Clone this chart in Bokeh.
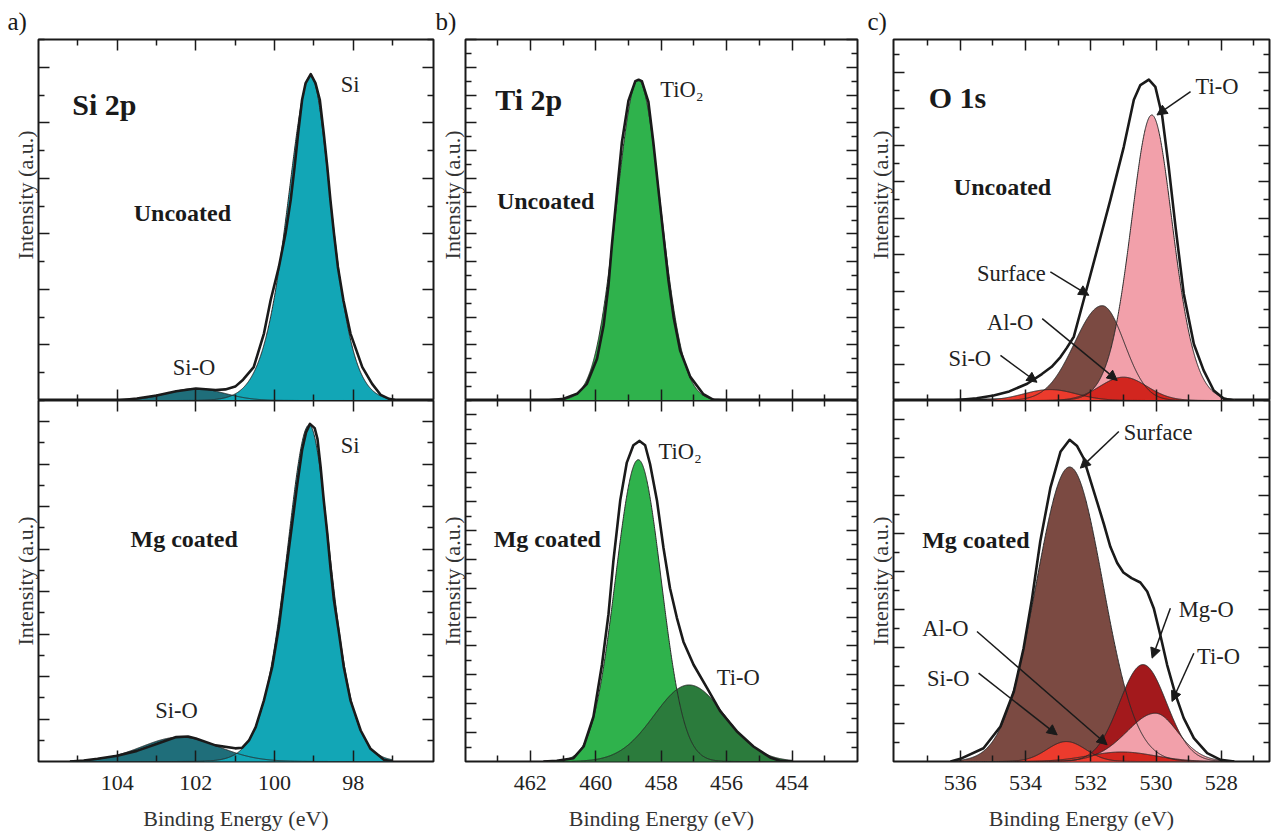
import numpy as np
from bokeh.plotting import figure
from bokeh.models import Range1d, FixedTicker, LinearAxis, Arrow, NormalHead, Title
from bokeh.layouts import row, column
from bokeh.embed import file_html
from bokeh.resources import INLINE
from bokeh.core.properties import value

# ======================= DATA =======================
# ---- a) Si 2p, uncoated : measured spectrum ----
si_unc_E = [104.0, 103.5, 103.0, 102.5, 102.0, 101.5, 101.25, 101.0, 100.8, 100.53,
            100.27, 100.1, 99.89, 99.72, 99.59, 99.49, 99.4, 99.3, 99.21, 99.08,
            98.96, 98.85, 98.75, 98.66, 98.58, 98.49, 98.39, 98.25, 98.07, 97.77,
            97.52, 97.3, 97.09, 96.9]
si_unc_I = [0.0, 0.07, 0.18, 0.33, 0.43, 0.38, 0.40, 0.50, 0.75, 1.2,
            2.41, 3.61, 4.81, 6.02, 7.22, 8.42, 9.63, 10.83, 11.43, 11.75,
            11.43, 10.83, 9.63, 8.42, 7.22, 6.02, 4.81, 3.61, 2.41, 1.2,
            0.6, 0.2, 0.06, 0.0]
# fitted components: centre (eV), height, half widths on high / low BE side,
# Gauss-Lorentz mixing m
si_unc_names = ["Si-O", "Si"]
si_unc_center = [102.0, 99.08]
si_unc_height = [0.43, 11.7]
si_unc_hw_hi = [0.85, 0.73]
si_unc_hw_lo = [0.85, 0.64]
si_unc_mix = [0.0, 0.5]

# ---- a) Si 2p, Mg coated ----
si_mg_E = [105.2, 104.85, 104.5, 104.0, 103.5, 103.0, 102.5, 102.2, 102.0, 101.5,
           101.0, 100.82, 100.65, 100.48, 100.27, 100.06, 99.89, 99.76, 99.64, 99.53,
           99.42, 99.3, 99.2, 99.1, 98.98, 98.91, 98.83, 98.75, 98.66, 98.58,
           98.49, 98.36, 98.24, 98.07, 97.81, 97.56, 97.22, 97.0]
si_mg_I = [0.0, 0.05, 0.13, 0.27, 0.5, 0.82, 1.15, 1.18, 1.08, 0.76,
           0.62, 0.65, 0.99, 1.62, 2.88, 4.45, 6.33, 8.22, 9.95, 11.52,
           13.1, 14.67, 15.5, 15.9, 15.7, 15.2, 13.88, 12.31, 10.74, 9.17,
           7.59, 6.02, 4.45, 2.88, 1.46, 0.6, 0.08, 0.0]
si_mg_names = ["Si-O", "Si"]
si_mg_center = [102.4, 99.12]
si_mg_height = [1.15, 15.85]
si_mg_hw_hi = [1.15, 0.72]
si_mg_hw_lo = [1.15, 0.67]
si_mg_mix = [0.0, 0.5]

# ---- b) Ti 2p, uncoated ----
ti_unc_E = [461.5, 460.98, 460.57, 460.27, 459.96, 459.76, 459.61, 459.51, 459.35, 459.2,
            459.0, 458.79, 458.69, 458.59, 458.39, 458.24, 458.08, 457.93, 457.78, 457.62,
            457.42, 457.11, 456.71, 456.4, 456.0]
ti_unc_I = [0.0, 0.12, 0.48, 1.2, 3.0, 5.4, 8.3, 11.1, 15.0, 18.6,
            21.6, 23.0, 23.1, 23.0, 21.5, 18.6, 15.1, 11.9, 8.7, 6.0,
            3.6, 1.7, 0.45, 0.05, 0.0]
ti_unc_names = ["TiO₂"]
ti_unc_center = [458.70]
ti_unc_height = [23.1]
ti_unc_hw_hi = [0.80]
ti_unc_hw_lo = [0.82]
ti_unc_mix = [0.1]

# ---- b) Ti 2p, Mg coated ----
ti_mg_E = [461.6, 461.19, 460.68, 460.37, 460.07, 459.81, 459.61, 459.46, 459.25, 459.05,
           458.85, 458.66, 458.49, 458.34, 458.13, 457.93, 457.73, 457.52, 457.32, 457.01,
           456.6, 456.2, 455.69, 455.18, 454.67, 454.37, 454.0]
ti_mg_I = [0.0, 0.05, 0.23, 1.04, 3.1, 6.7, 10.2, 13.9, 18.1, 20.7,
           21.9, 22.2, 21.9, 20.6, 18.1, 14.8, 12.0, 9.95, 8.3, 6.7,
           5.1, 3.5, 2.1, 1.04, 0.28, 0.05, 0.0]
ti_mg_names = ["TiO₂", "Ti-O"]
ti_mg_center = [458.70, 457.15]
ti_mg_height = [20.9, 5.3]
ti_mg_hw_hi = [0.82, 1.25]
ti_mg_hw_lo = [0.82, 1.28]
ti_mg_mix = [0.0, 0.0]

# ---- c) O 1s, uncoated ----
o_unc_E = [536.3, 536.0, 535.5, 534.98, 534.5, 533.95, 533.5, 533.2, 532.93, 532.73,
           532.52, 532.22, 531.81, 531.4, 530.99, 530.68, 530.48, 530.22, 530.02, 529.81,
           529.61, 529.4, 529.15, 528.84, 528.54, 528.23, 527.92, 527.6]
o_unc_I = [0.0, 0.04, 0.12, 0.27, 0.5, 0.92, 1.45, 1.85, 2.38, 2.9,
           3.5, 5.5, 8.24, 11.0, 13.9, 16.5, 17.3, 17.6, 17.2, 15.6,
           12.8, 9.5, 5.86, 3.1, 1.65, 0.55, 0.09, 0.0]
o_unc_names = ["Surface", "Ti-O", "Al-O", "Si-O"]
o_unc_center = [531.65, 530.13, 531.0, 533.25]
o_unc_height = [5.2, 15.66, 1.28, 0.6]
o_unc_hw_hi = [1.0, 0.8, 0.85, 0.95]
o_unc_hw_lo = [0.8, 0.8, 0.85, 0.95]
o_unc_mix = [0.0, 0.4, 0.0, 0.0]

# ---- c) O 1s, Mg coated ----
o_mg_E = [536.3, 536.0, 535.29, 534.77, 534.36, 534.06, 533.8, 533.55, 533.24, 532.93,
          532.65, 532.42, 532.22, 531.81, 531.6, 531.4, 531.19, 531.0, 530.75, 530.48,
          530.27, 530.07, 529.87, 529.66, 529.4, 529.15, 528.84, 528.43, 528.02, 527.6]
o_mg_I = [0.0, 0.14, 0.7, 1.84, 3.68, 5.96, 8.6, 11.58, 14.4, 16.3,
          16.93, 16.6, 15.96, 13.68, 12.5, 11.3, 10.45, 9.95, 9.65, 9.42,
          8.95, 8.07, 6.67, 5.09, 3.51, 2.28, 1.23, 0.44, 0.09, 0.0]
o_mg_names = ["Surface", "Mg-O", "Ti-O", "Al-O", "Si-O"]
o_mg_center = [532.65, 530.4, 530.02, 531.05, 532.75]
o_mg_height = [15.5, 5.1, 2.54, 0.5, 1.05]
o_mg_hw_hi = [1.2, 0.85, 1.1, 1.2, 0.7]
o_mg_hw_lo = [1.2, 0.85, 0.85, 1.2, 0.7]
o_mg_mix = [0.0, 0.0, 0.3, 0.0, 0.0]

# axis tick values
si_ticks_major = [98, 100, 102, 104]
si_ticks_minor = [97, 99, 101, 103, 105]
ti_ticks_major = [454, 456, 458, 460, 462]
ti_ticks_minor = [453, 455, 457, 459, 461, 463]
o_ticks_major = [528, 530, 532, 534, 536]
o_ticks_minor = [527, 529, 531, 533, 535, 537]

# text annotations: (text, x, y, kind)
si_unc_text = [("Si 2p", 105.14, 10.65, "title"), ("Uncoated", 103.58, 6.75, "state"),
               ("Si", 98.32, 11.37, "peak"), ("Si-O", 102.59, 1.19, "peak")]
si_mg_text = [("Si", 98.32, 14.9, "peak"), ("Mg coated", 103.66, 10.5, "state"),
              ("Si-O", 103.03, 2.4, "peak")]
ti_unc_text = [("Ti 2p", 463.07, 21.7, "title"), ("Uncoated", 463.02, 14.4, "state"),
               ("TiO₂", 458.03, 22.4, "peak")]
ti_mg_text = [("TiO₂", 458.08, 21.5, "peak"), ("Mg coated", 463.12, 15.4, "state"),
              ("Ti-O", 456.3, 5.8, "peak")]
o_unc_text = [("O 1s", 536.97, 16.6, "title"), ("Uncoated", 536.2, 11.7, "state"),
              ("Ti-O", 528.79, 17.2, "peak"), ("Surface", 535.49, 6.96, "peak"),
              ("Al-O", 535.18, 4.3, "peak"), ("Si-O", 536.36, 2.29, "peak")]
o_mg_text = [("Surface", 530.99, 17.3, "peak"), ("Mg coated", 537.17, 11.67, "state"),
             ("Mg-O", 529.3, 7.98, "peak"), ("Ti-O", 528.74, 5.53, "peak"),
             ("Al-O", 537.17, 7.0, "peak"), ("Si-O", 537.02, 4.38, "peak")]
# arrows: (x_start, y_start, x_end, y_end)
o_unc_arrows = [(528.94, 16.94, 529.97, 15.66), (533.24, 7.05, 532.06, 5.77),
                (533.49, 4.49, 531.19, 1.1), (534.77, 2.47, 533.65, 1.0)]
o_mg_arrows = [(531.14, 17.37, 532.32, 15.44), (529.56, 8.07, 530.12, 5.44),
               (528.84, 5.7, 529.51, 3.16), (535.49, 6.84, 531.5, 0.88),
               (535.44, 4.65, 533.03, 1.4)]

# ======================= STYLE =======================
INK = "#1a1a1a"
FONT = "Liberation Serif"
C_SI = "#12a6b6"
C_SIO_T = "#1f6e7a"
C_TIO2 = "#2fb24c"
C_TIO_G = "#2b7b3c"
C_PINK = "#f2a0aa"
C_BROWN = "#7b4a42"
C_MGO = "#a3191c"
C_ALO = "#d2261f"
C_SIO_R = "#ec3b2d"

KIND = {"title": ("30px", "bold", INK), "state": ("24px", "bold", INK),
        "peak": ("22.5px", "normal", "#222")}


def gl(x, c, h, hwh, hwl, m):
    """Gauss-Lorentz (product form) line shape with separate half widths."""
    hw = np.where(x >= c, hwh, hwl)
    u = (x - c) / hw
    return h * np.exp(-np.log(2) * (1 - m) * u ** 2) / (1 + m * u ** 2)


def style_axis(ax, ticker):
    ax.ticker = ticker
    ax.axis_line_color = None
    ax.major_tick_in = 11
    ax.major_tick_out = 0
    ax.minor_tick_in = 6
    ax.minor_tick_out = 0
    ax.major_tick_line_color = INK
    ax.minor_tick_line_color = INK
    ax.major_tick_line_width = 1.5
    ax.minor_tick_line_width = 1.5
    ax.major_label_text_font_size = "0px"
    ax.major_label_text_color = None
    ax.major_label_standoff = 0


def build(xr, ymax, xmaj, xmin, fw, bl, top, env_E, env_I, comps, colors, texts,
          arrows=(), letter=None, letter_off=-30):
    p = figure(x_range=Range1d(xr[0], xr[1]), y_range=Range1d(0, ymax),
               frame_width=fw, frame_height=361,
               min_border_left=bl, min_border_right=2,
               min_border_top=39 if top else 0, min_border_bottom=0 if top else 72,
               output_backend="svg", toolbar_location=None,
               title=letter if top else None,
               background_fill_color="white", border_fill_color="white")
    p.grid.visible = False
    p.outline_line_color = INK
    p.outline_line_width = 2
    if top:
        p.title.align = "left"
        p.title.offset = letter_off
        p.title.standoff = 9
        p.title.text_font = FONT
        p.title.text_font_size = "25px"
        p.title.text_font_style = "normal"
        p.title.text_color = INK

    below = p.below[0]
    left = p.left[0]
    above = LinearAxis()
    right = LinearAxis()
    p.add_layout(above, "above")
    p.add_layout(right, "right")
    xt = FixedTicker(ticks=xmaj, minor_ticks=xmin)
    nmax = int(np.floor(ymax))
    yt = FixedTicker(ticks=list(range(2, nmax + 1, 2)), minor_ticks=list(range(1, nmax + 1, 2)))
    for ax in (below, above):
        style_axis(ax, xt)
    for ax in (left, right):
        style_axis(ax, yt)

    # y axis title: upper panels carry it in their upper part, lower panels centred
    p.add_layout(Title(text="Intensity (a.u.)", align="right" if top else "center",
                       offset=91 if top else 0, standoff=2, text_font=FONT,
                       text_font_size="22px", text_font_style="normal",
                       text_color="#333"), "left")

    if not top:
        below.major_label_text_font_size = "22px"
        below.major_label_text_font = FONT
        below.major_label_text_color = "#222"
        below.major_label_standoff = 14
        below.axis_label = "Binding Energy (eV)"
        below.axis_label_text_font = FONT
        below.axis_label_text_font_size = "22px"
        below.axis_label_text_font_style = "normal"
        below.axis_label_text_color = "#333"
        below.axis_label_standoff = 13

    names, cen, hei, hwh, hwl, mix = comps
    # components are drawn over the measured energy window only
    xs = np.linspace(min(env_E), max(env_E), 1000)
    curves = [gl(xs, c, h, a, b, m) for c, h, a, b, m in zip(cen, hei, hwh, hwl, mix)]
    for y, col in zip(curves, colors):
        p.varea(x=xs, y1=0, y2=y, fill_color=col)
    for y in curves:
        p.line(xs, y, line_color="#2a2a2a", line_width=1)
    p.line(env_E, env_I, line_color=INK, line_width=2.6, line_join="round")

    for kind in ("title", "state", "peak"):
        sel = [t for t in texts if t[3] == kind]
        if not sel:
            continue
        size, fstyle, col = KIND[kind]
        p.text(x=[t[1] for t in sel], y=[t[2] for t in sel], text=[t[0] for t in sel],
               text_font=value(FONT), text_font_size=size, text_font_style=fstyle,
               text_color=col, text_align="left", text_baseline="alphabetic")
    for (x0, y0, x1, y1) in arrows:
        p.add_layout(Arrow(end=NormalHead(size=10, fill_color=INK, line_color=INK, line_width=1),
                           x_start=x0, y_start=y0, x_end=x1, y_end=y1,
                           line_color=INK, line_width=1.5))
    return p


SI_X = (106.0, 95.96)
TI_X = (463.98, 452.0)
O_X = (538.05, 526.52)

a_top = build(SI_X, 13.0, si_ticks_major, si_ticks_minor, 395, 38, True, si_unc_E, si_unc_I,
              (si_unc_names, si_unc_center, si_unc_height, si_unc_hw_hi, si_unc_hw_lo, si_unc_mix),
              [C_SIO_T, C_SI], si_unc_text, letter="a)", letter_off=-31)
a_bot = build(SI_X, 17.0, si_ticks_major, si_ticks_minor, 395, 38, False, si_mg_E, si_mg_I,
              (si_mg_names, si_mg_center, si_mg_height, si_mg_hw_hi, si_mg_hw_lo, si_mg_mix),
              [C_SIO_T, C_SI], si_mg_text)
b_top = build(TI_X, 26.0, ti_ticks_major, ti_ticks_minor, 392, 30, True, ti_unc_E, ti_unc_I,
              (ti_unc_names, ti_unc_center, ti_unc_height, ti_unc_hw_hi, ti_unc_hw_lo, ti_unc_mix),
              [C_TIO2], ti_unc_text, letter="b)", letter_off=-30)
b_bot = build(TI_X, 25.0, ti_ticks_major, ti_ticks_minor, 392, 30, False, ti_mg_E, ti_mg_I,
              (ti_mg_names, ti_mg_center, ti_mg_height, ti_mg_hw_hi, ti_mg_hw_lo, ti_mg_mix),
              [C_TIO2, C_TIO_G], ti_mg_text)
c_top = build(O_X, 19.8, o_ticks_major, o_ticks_minor, 376, 34, True, o_unc_E, o_unc_I,
              (o_unc_names, o_unc_center, o_unc_height, o_unc_hw_hi, o_unc_hw_lo, o_unc_mix),
              [C_BROWN, C_PINK, C_ALO, C_SIO_R], o_unc_text, o_unc_arrows, letter="c)", letter_off=-26)
c_bot = build(O_X, 19.0, o_ticks_major, o_ticks_minor, 376, 34, False, o_mg_E, o_mg_I,
              (o_mg_names, o_mg_center, o_mg_height, o_mg_hw_hi, o_mg_hw_lo, o_mg_mix),
              [C_BROWN, C_MGO, C_PINK, C_ALO, C_SIO_R], o_mg_text, o_mg_arrows)

layout = row(column(a_top, a_bot), column(b_top, b_bot), column(c_top, c_bot))
open("out.html", "w").write(file_html(layout, INLINE, title="XPS spectra"))
